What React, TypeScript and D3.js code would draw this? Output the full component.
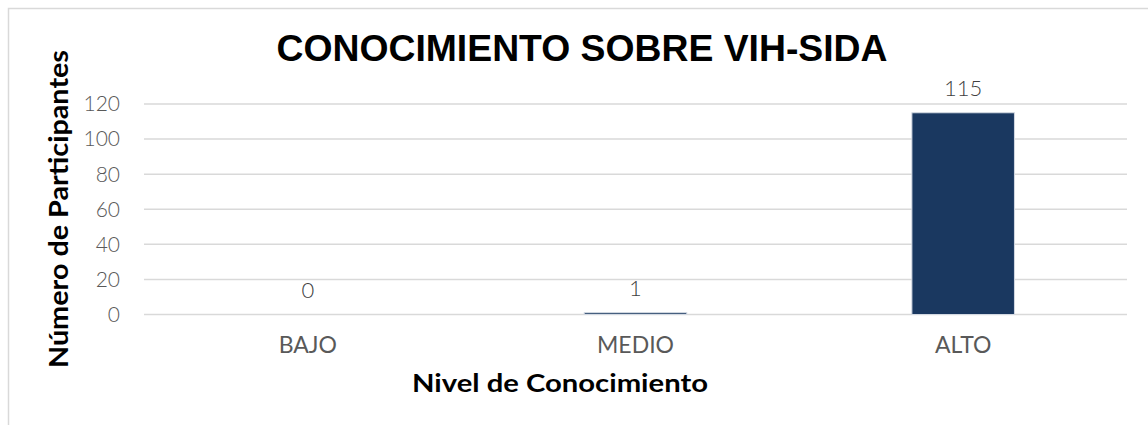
import React, { useEffect, useRef } from 'react';
import * as d3 from 'd3';

// chart data
const categories = ['BAJO', 'MEDIO', 'ALTO'];
const participants = [0, 1, 115];
const yTicks = [0, 20, 40, 60, 80, 100, 120];

const W = 1148;
const H = 425;
const lightFont = "'Century Gothic', Lato, 'Open Sans', sans-serif";

function App() {
  const ref = useRef<SVGSVGElement | null>(null);

  useEffect(() => {
    drawChart();
  }, []);

  function drawChart() {
    const svg = d3.select(ref.current);
    svg.selectAll('*').remove();

    // outer chart border (cut off on the right and bottom)
    svg.append('rect')
      .attr('x', 8.5)
      .attr('y', 8.5)
      .attr('width', 1300)
      .attr('height', 600)
      .attr('fill', 'white')
      .attr('stroke', '#d9d9d9')
      .attr('stroke-width', 1.5);

    const xScale = d3.scaleBand<string>()
      .domain(categories)
      .range([144, 1127])
      .padding(0);
    const yScale = d3.scaleLinear()
      .domain([0, 120])
      .range([314.5, 104]);

    const barW = xScale.bandwidth() * 0.313;

    // gridlines
    svg.append('g')
      .selectAll('line')
      .data(yTicks).enter()
      .append('line')
      .attr('x1', 144)
      .attr('x2', 1127)
      .attr('y1', d => yScale(d))
      .attr('y2', d => yScale(d))
      .attr('stroke', '#d9d9d9')
      .attr('stroke-width', 1.5);

    // y tick labels
    svg.append('g')
      .selectAll('text')
      .data(yTicks).enter()
      .append('text')
      .attr('x', 120)
      .attr('y', d => yScale(d))
      .attr('dy', '0.35em')
      .attr('text-anchor', 'end')
      .attr('font-family', lightFont)
      .attr('font-weight', 300)
      .style('font-size', '21px')
      .attr('fill', '#595959')
      .text(d => d);

    // bars
    svg.append('g')
      .selectAll('rect')
      .data(participants).enter()
      .append('rect')
      .attr('x', (d, i) => (xScale(categories[i]) as number) + (xScale.bandwidth() - barW) / 2)
      .attr('y', d => yScale(d))
      .attr('width', barW)
      .attr('height', d => yScale(0) - yScale(d))
      .attr('fill', '#1a3860')
      .attr('stroke', '#d3d9e2')
      .attr('stroke-width', 1);

    // data labels
    svg.append('g')
      .selectAll('text')
      .data(participants).enter()
      .append('text')
      .attr('x', (d, i) => (xScale(categories[i]) as number) + xScale.bandwidth() / 2)
      .attr('y', d => yScale(d) - 17)
      .attr('text-anchor', 'middle')
      .attr('font-family', lightFont)
      .attr('font-weight', 300)
      .style('font-size', '22px')
      .attr('fill', '#404040')
      .text(d => d);

    // category labels
    svg.append('g')
      .selectAll('text')
      .data(categories).enter()
      .append('text')
      .attr('x', d => (xScale(d) as number) + xScale.bandwidth() / 2)
      .attr('y', 352.5)
      .attr('text-anchor', 'middle')
      .attr('font-family', lightFont)
      .attr('font-weight', 400)
      .style('font-size', '23px')
      .attr('fill', '#595959')
      .text(d => d);

    // title
    svg.append('text')
      .attr('x', 582)
      .attr('y', 61)
      .attr('text-anchor', 'middle')
      .attr('font-family', 'Arial, Liberation Sans, sans-serif')
      .attr('font-weight', 700)
      .style('font-size', '37px')
      .attr('textLength', 611)
      .attr('lengthAdjust', 'spacingAndGlyphs')
      .attr('fill', '#000')
      .text('CONOCIMIENTO SOBRE VIH-SIDA');

    // x axis title
    svg.append('text')
      .attr('x', 560)
      .attr('y', 392)
      .attr('text-anchor', 'middle')
      .attr('font-family', lightFont)
      .attr('font-weight', 700)
      .style('font-size', '25px')
      .attr('textLength', 296)
      .attr('lengthAdjust', 'spacingAndGlyphs')
      .attr('fill', '#000')
      .text('Nivel de Conocimiento');

    // y axis title
    svg.append('text')
      .attr('transform', 'translate(68,209) rotate(-90)')
      .attr('text-anchor', 'middle')
      .attr('font-family', lightFont)
      .attr('font-weight', 700)
      .style('font-size', '27px')
      .attr('textLength', 318)
      .attr('lengthAdjust', 'spacingAndGlyphs')
      .attr('fill', '#000')
      .text('Número de Participantes');
  }

  return (
    <svg
      ref={ref}
      width={W}
      height={H}
      style={{ position: 'absolute', left: 0, top: 0, background: 'white' }}
    />
  );
}

export default App;
